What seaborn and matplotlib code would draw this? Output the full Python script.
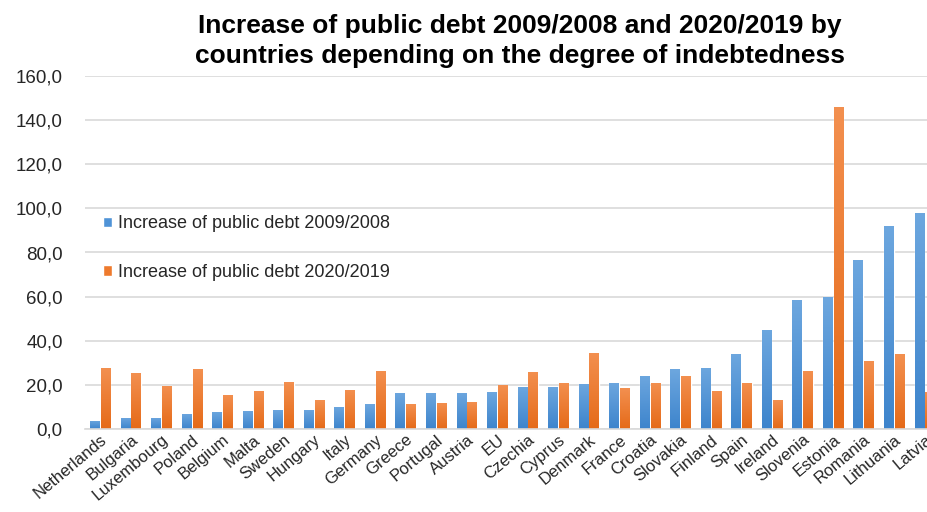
import matplotlib
matplotlib.use("Agg")
import matplotlib.pyplot as plt
from matplotlib.colors import LinearSegmentedColormap, to_hex
import numpy as np
import seaborn as sns
import pandas as pd

countries = ["Netherlands", "Bulgaria", "Luxembourg", "Poland", "Belgium", "Malta",
             "Sweden", "Hungary", "Italy", "Germany", "Greece", "Portugal", "Austria",
             "EU", "Czechia", "Cyprus", "Denmark", "France", "Croatia", "Slovakia",
             "Finland", "Spain", "Ireland", "Slovenia", "Estonia", "Romania",
             "Lithuania", "Latvia"]
debt_2009_2008 = [3.9, 5.2, 5.2, 6.9, 7.7, 8.3, 8.9, 8.9, 10.1, 11.3, 16.3, 16.3, 16.3,
                  16.7, 19.3, 19.3, 20.5, 21.1, 24.1, 27.1, 27.7, 33.9, 44.9, 58.5,
                  59.7, 76.5, 91.9, 97.9]
debt_2020_2019 = [27.6, 25.3, 19.7, 27.1, 15.5, 17.3, 21.5, 13.1, 17.9, 26.5, 11.3, 11.9,
                  12.5, 19.9, 25.9, 21.1, 34.5, 18.5, 21.1, 24.1, 17.3, 21.1, 13.1, 26.5,
                  146.0, 30.9, 33.9, 16.7]
series_names = ["Increase of public debt 2009/2008", "Increase of public debt 2020/2019"]
title_lines = ["Increase of public debt 2009/2008 and 2020/2019 by",
               "countries depending on the degree of indebtedness"]

df = pd.DataFrame({
    "country": countries * 2,
    "value": debt_2009_2008 + debt_2020_2019,
    "series": [series_names[0]] * len(countries) + [series_names[1]] * len(countries),
})

sns.set_theme(style="white")
plt.rcParams["font.family"] = ["Liberation Sans", "DejaVu Sans"]

BLUE = "#4F93D7"
ORANGE = "#EE7A2D"
TEXT = "#262626"
# light-at-top gradients used to shade each bar
GRADIENTS = {
    BLUE.lower(): LinearSegmentedColormap.from_list("blue_fill", ["#3D84CC", "#6DA7DF"]),
    ORANGE.lower(): LinearSegmentedColormap.from_list("orange_fill", ["#E56A18", "#F39050"]),
}

fig = plt.figure(figsize=(9.28, 5.12), dpi=100)
fig.patch.set_facecolor("white")
# plot area runs past the right edge of the canvas, so the last group is clipped
ax = fig.add_axes([85 / 928, (512 - 429.3) / 512, 855 / 928, (429.3 - 75.7) / 512])

sns.barplot(data=df, x="country", y="value", hue="series", order=countries,
            hue_order=series_names, palette=[BLUE, ORANGE], saturation=1,
            width=0.71, gap=0.12, ax=ax)

# shade every bar with a vertical gradient clipped to its rectangle
grad = np.linspace(0, 1, 256).reshape(-1, 1)
for bar in list(ax.patches):
    h = bar.get_height()
    cmap = GRADIENTS.get(to_hex(bar.get_facecolor()).lower())
    if h <= 0 or cmap is None:
        continue
    x0 = bar.get_x()
    w = bar.get_width()
    im = ax.imshow(grad, cmap=cmap, origin="lower", aspect="auto",
                   extent=(x0, x0 + w, 0, h), zorder=bar.get_zorder() + 0.01,
                   interpolation="bilinear")
    im.set_clip_path(bar)
ax.set_xlim(-0.5, len(countries) - 0.5)
ax.set_ylim(0, 160)

yt = list(range(0, 161, 20))
ax.set_yticks(yt)
ax.set_yticklabels([f"{v:.1f}".replace(".", ",") for v in yt], fontsize=13.5, color=TEXT)
ax.tick_params(axis="y", length=0, pad=16)
ax.tick_params(axis="x", length=0, pad=2)
ax.set_xticks(range(len(countries)))
ax.set_xticklabels(countries, rotation=40, ha="right", va="top",
                   rotation_mode="anchor", fontsize=12, color=TEXT)
ax.set_xlabel("")
ax.set_ylabel("")

ax.yaxis.grid(True, color="#D9D9D9", lw=1.2)
ax.set_axisbelow(True)
for side in ("top", "right", "left"):
    ax.spines[side].set_visible(False)
ax.spines["bottom"].set_color("#D9D9D9")
ax.spines["bottom"].set_linewidth(1.2)

ax.legend(loc="upper left", bbox_to_anchor=(0.021, 0.605), frameon=False,
          fontsize=13, handlelength=0.5, handleheight=0.5, handletextpad=0.35,
          labelspacing=1.75, borderpad=0, borderaxespad=0, labelcolor=TEXT)

# two-line bold title, baselines placed separately
for line, base_px in zip(title_lines, (33.5, 63.5)):
    fig.text(520 / 928, 1 - base_px / 512, line, ha="center", va="baseline",
             fontsize=19, fontweight="bold", color="black")

fig.savefig("out.png", dpi=100, facecolor="white")
